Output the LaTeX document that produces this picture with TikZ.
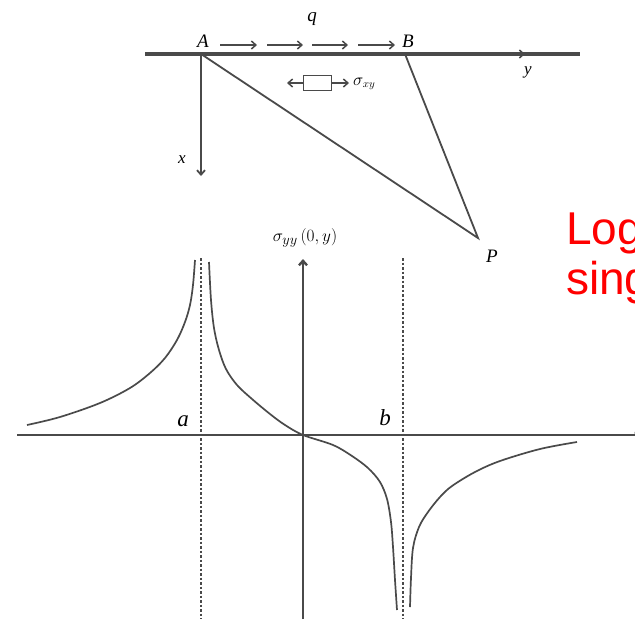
\documentclass[tikz,border=0pt]{standalone}
\usepackage{fontspec}
\setmainfont{Liberation Serif}
\newfontfamily\redsans{Liberation Sans}
\usetikzlibrary{arrows.meta}
\definecolor{ink}{HTML}{4A4A4A}
\tikzset{
  barb/.style={-{Straight Barb[length=4.5pt,width=8pt]}},
  thinline/.style={draw=ink,line width=1.8pt},
  curve/.style={draw=ink,line width=1.7pt,smooth,tension=0.55},
  dashv/.style={draw=ink,line width=1.5pt,dash pattern=on 2.5pt off 2pt},
  lbl/.style={inner sep=0pt,font=\fontsize{17}{17}\selectfont\itshape},
  biglbl/.style={inner sep=0pt,font=\fontsize{23}{23}\selectfont\itshape},
}
\begin{document}
\begin{tikzpicture}[x=1pt,y=-1pt]
\useasboundingbox (0,0) rectangle (635,619);
\clip (0,0) rectangle (635,619);
\fill[white] (0,0) rectangle (635,619);
% ---- top sketch ----
\coordinate (L0) at (145,54);
\coordinate (L1) at (580,54);
\coordinate (A) at (201,54);
\coordinate (B) at (405,54);
\coordinate (P) at (478,238);
\coordinate (X) at (201,176);
\draw[draw=ink,line width=3.2pt] (L0) -- (L1);
\coordinate (ya) at (508,54);
\coordinate (yb) at (525,54);
\draw[ink,line width=1.5pt,barb] (ya) -- (yb);
\node[lbl] (ylab) at (528,72) {y};
\draw[thinline,barb] (A) -- (X);
\node[lbl] (xlab) at (182,160) {x};
\draw[thinline] (A) -- (P) -- (B);
\node[lbl,font=\fontsize{19}{19}\selectfont\itshape] (Alab) at (203,41) {A};
\node[lbl,font=\fontsize{19}{19}\selectfont\itshape] (Blab) at (408,41) {B};
\node[lbl,font=\fontsize{19}{19}\selectfont\itshape] (Plab) at (492,256) {P};
\node[lbl,font=\fontsize{19}{19}\selectfont\itshape] (qlab) at (312,19) {q};
\foreach \s/\e [count=\i] in {220/257,267/303,312/348,358/395}{
  \coordinate (qs\i) at (\s,45);
  \coordinate (qe\i) at (\e,45);
  \draw[ink,line width=1.5pt,barb] (qs\i) -- (qe\i);
}
\node[draw=ink,line width=1.5pt,minimum width=28pt,minimum height=15pt,inner sep=0pt] (box) at (317.5,83) {};
\coordinate (bl) at (287,83);
\coordinate (br) at (349,83);
\draw[ink,line width=1.5pt,barb] (box.west) -- (bl);
\draw[ink,line width=1.5pt,barb] (box.east) -- (br);
\node[lbl,font=\fontsize{16}{16}\selectfont\itshape,anchor=west] (sxy) at (353,84) {$\sigma_{xy}$};
% ---- plot ----
\coordinate (H0) at (17,435);
\coordinate (H1) at (642,435);
\draw[ink,line width=2.4pt,barb] (H0) -- (H1);
\node[lbl] (ylab2) at (640,428) {y};
\coordinate (V0) at (303,619);
\coordinate (V1) at (303,259);
\draw[ink,line width=2.4pt,barb] (V0) -- (V1);
\node[lbl,font=\fontsize{19}{19}\selectfont\itshape] (slab) at (305,238) {$\sigma_{yy}\,(0,y)$};
\coordinate (da0) at (201,258);
\coordinate (da1) at (201,619);
\coordinate (db0) at (403,258);
\coordinate (db1) at (403,619);
\draw[dashv] (da0) -- (da1);
\draw[dashv] (db0) -- (db1);
\node[biglbl] (alab) at (183,421) {a};
\node[biglbl] (blab) at (385,418) {b};
\draw[curve] plot coordinates {(27,425) (60,417) (100,403) (130,388) (150,373) (165,358) (177,340) (185,322) (190,305) (193,285) (195,260)};
\draw[curve] plot coordinates {(209,262) (211,300) (214,328) (219,350) (226,369) (237,385) (252,399) (270,414) (285,425) (303,435) (333,445) (352,456) (368,468) (380,482) (387,499) (391,522) (393,547) (395,580) (397,610)};
\draw[curve] plot coordinates {(410,607) (411,578) (413,548) (419,527) (428,512) (440,497) (452,486) (475,472) (500,461) (540,449) (577,442)};
% ---- red note ----
\node[anchor=base west,inner sep=0pt,text=red,font=\redsans\fontsize{46}{50}\selectfont,align=left] (note) at (566,294) {Logarithmic\\singularity};
\end{tikzpicture}
\end{document}
